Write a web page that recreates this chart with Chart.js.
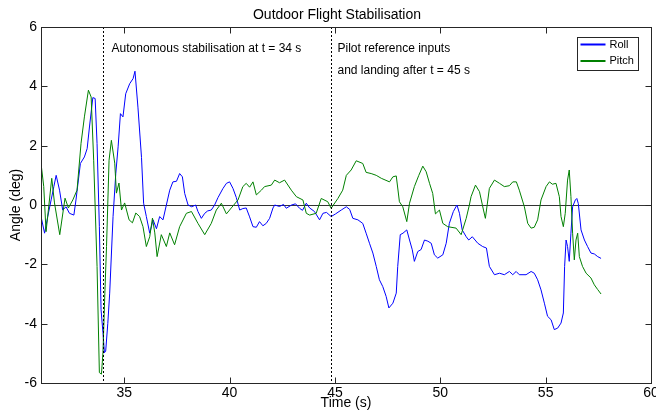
<!DOCTYPE html>
<html>
<head>
<meta charset="utf-8">
<script src="https://cdn.jsdelivr.net/npm/chart.js@4.4.0/dist/chart.umd.min.js"></script>
<style>
  body { margin: 0; background: #fff; }
  #wrap { width: 656px; height: 413px; }
</style>
</head>
<body>
<div id="wrap"><canvas id="flight" width="656" height="413"></canvas></div>
<script>
// angles (deg), time in seconds
const rollTime = [31.07,31.22,31.37,31.53,31.66,31.77,31.93,32.08,32.24,32.4,
  32.61,32.71,32.92,33.11,33.24,33.35,33.51,33.62,33.71,33.82,
  33.9,33.99,34.06,34.12,34.22,34.31,34.47,34.6,34.71,34.82,
  34.94,35.07,35.26,35.42,35.51,35.65,35.82,35.92,36.05,36.21,
  36.37,36.53,36.68,36.84,37.0,37.16,37.31,37.48,37.63,37.76,
  37.87,38.03,38.2,38.39,38.5,38.66,38.82,38.96,39.13,39.29,
  39.45,39.68,39.85,40.0,40.16,40.32,40.48,40.63,40.79,40.95,
  41.11,41.27,41.42,41.58,41.74,41.9,42.06,42.14,42.37,42.56,
  42.69,42.94,43.13,43.32,43.46,43.64,43.8,44.03,44.27,44.43,
  44.6,44.82,45.03,45.3,45.54,45.7,45.85,46.09,46.32,46.48,
  46.64,46.8,46.96,47.11,47.27,47.43,47.56,47.75,47.91,47.98,
  48.1,48.23,48.41,48.54,48.67,48.77,48.93,49.09,49.25,49.41,
  49.57,49.72,49.88,50.12,50.28,50.43,50.62,50.79,50.91,51.04,
  51.23,51.35,51.52,51.78,52.01,52.19,52.33,52.57,52.81,53.04,
  53.28,53.44,53.6,53.75,54.07,54.31,54.46,54.62,54.78,54.94,
  55.09,55.26,55.41,55.57,55.73,55.84,55.9,55.97,56.04,56.12,
  56.2,56.28,56.41,56.48,56.55,56.68,56.84,56.99,57.15,57.31,
  57.47,57.63];
const rollAngle = [-0.45,-0.95,-0.39,0.17,0.62,1.0,0.5,-0.17,-0.06,-0.28,
  -0.34,0.17,1.4,1.62,1.9,2.63,3.62,3.59,2.07,-0.73,
  -3.53,-4.3,-4.98,-4.93,-4.0,-2.97,-0.39,1.07,1.96,3.08,
  2.97,3.75,4.09,4.26,4.51,3.3,1.6,0.06,-0.39,-0.95,
  -0.5,-0.8,-0.39,-0.5,0,0.5,0.78,0.8,1.06,0.95,
  0.39,0,-0.06,0,-0.22,-0.45,-0.28,-0.2,-0.17,0,
  0.25,0.55,0.73,0.78,0.56,0.25,-0.17,-0.12,-0.1,-0.4,
  -0.73,-0.75,-0.56,-0.7,-0.62,-0.45,-0.1,0,-0.05,0.02,
  -0.11,0,0.04,-0.11,-0.18,0.06,-0.1,-0.22,-0.5,-0.28,
  -0.25,-0.39,-0.3,-0.17,-0.06,-0.15,-0.45,-0.5,-0.62,-0.95,
  -1.29,-1.62,-2.07,-2.52,-2.75,-3.08,-3.47,-3.31,-2.97,-2.07,
  -1.0,-0.95,-0.84,-1.18,-1.51,-1.9,-1.57,-1.5,-1.18,-1.22,
  -1.29,-1.68,-1.79,-1.68,-1.29,-0.62,-0.22,0,-0.28,-0.84,
  -1.07,-1.18,-1.07,-1.29,-1.4,-1.45,-2.07,-2.35,-2.3,-2.35,
  -2.24,-2.35,-2.24,-2.35,-2.35,-2.24,-2.3,-2.52,-2.86,-3.31,
  -3.75,-3.87,-4.2,-4.15,-3.98,-3.64,-2.07,-1.18,-1.4,-1.9,
  -0.95,-0.06,0.17,0.22,0.05,-0.84,-1.18,-1.4,-1.62,-1.65,
  -1.74,-1.8];
const pitchTime = [31.07,31.18,31.29,31.56,31.69,31.94,32.19,32.35,32.56,32.76,
  32.95,33.11,33.3,33.43,33.55,33.71,33.82,33.92,33.99,34.08,
  34.16,34.28,34.39,34.55,34.63,34.75,34.87,35.02,35.23,35.39,
  35.55,35.73,35.89,36.05,36.21,36.34,36.45,36.56,36.76,37.0,
  37.16,37.39,37.63,37.95,38.19,38.5,38.82,39.13,39.37,39.61,
  39.85,40.08,40.4,40.63,40.79,40.95,41.11,41.27,41.51,41.66,
  41.98,42.14,42.37,42.61,42.93,43.17,43.48,43.64,43.8,44.11,
  44.35,44.66,44.82,45.14,45.37,45.54,45.77,46.01,46.32,46.48,
  46.72,46.96,47.2,47.59,47.75,47.91,48.06,48.22,48.41,48.54,
  48.77,48.98,49.17,49.33,49.49,49.64,49.77,49.96,50.12,50.35,
  50.75,50.99,51.23,51.38,51.46,51.67,51.86,52.05,52.14,52.33,
  52.57,52.81,53.04,53.28,53.44,53.61,53.75,53.99,54.15,54.31,
  54.46,54.62,54.78,55.02,55.18,55.32,55.49,55.65,55.73,55.84,
  55.93,56.04,56.12,56.2,56.28,56.36,56.44,56.52,56.6,56.75,
  56.92,57.15,57.31,57.47,57.63];
const pitchAngle = [1.29,0.62,-0.9,0.9,0.07,-1.0,0.23,-0.1,0.17,0.5,
  2.08,2.97,3.87,3.64,1.51,-2.07,-5.65,-5.7,-4.98,-2.97,
  -1.4,1.51,2.18,1.41,0.4,0.74,-0.17,0.07,-0.5,-0.6,
  -0.27,-0.39,-0.73,-1.4,-1.07,-0.44,-0.94,-1.74,-1.0,-1.4,
  -0.94,-1.34,-0.73,-0.28,-0.22,-0.62,-1.0,-0.62,-0.17,0.06,
  -0.3,-0.1,0.17,0.62,0.73,0.6,0.78,0.34,0.5,0.62,
  0.67,0.84,0.75,0.84,0.5,0.28,0.17,-0.28,-0.34,-0.28,
  0.22,0.11,-0.11,0.22,0.5,1.0,1.18,1.49,1.4,1.1,
  1.06,1.0,0.9,0.78,0.95,0.98,0.11,-0.06,-0.56,0.06,
  0.62,1.0,1.31,1.12,0.73,0.39,-0.3,-0.17,-0.62,-0.73,
  -0.78,-1.0,-0.45,0,0.28,0.67,0.45,-0.17,-0.45,0.56,
  0.84,0.73,0.62,0.65,0.78,0.78,0.5,-0.06,-0.62,-0.78,
  -0.75,-0.5,0.17,0.62,0.78,0.7,0.73,0.28,-0.39,-0.73,
  -0.28,0.84,1.18,0.28,-0.95,-1.85,-1.18,-0.95,-1.74,-2.07,
  -2.3,-2.46,-2.69,-2.85,-3.0];

const xTicks = [35, 40, 45, 50, 55, 60];
const yTicks = [-6, -4, -2, 0, 2, 4, 6];
const eventTimes = [34, 44.8];
const noteLines = [
  ['Autonomous stabilisation at t = 34 s'],
  ['Pilot reference inputs', 'and landing after t = 45 s']
];

const FONT = "'Liberation Sans', Arial, sans-serif";
Chart.defaults.font.family = FONT;
Chart.defaults.color = '#000';

function toPoints(ts, vs) {
  return ts.map((t, i) => ({ x: t, y: vs[i] }));
}

// matlab look: boxed axes, inward ticks, dotted event lines, notes, legend
const matlabAxes = {
  id: 'matlabAxes',
  afterDatasetsDraw(chart, args, opts) {
    const { ctx, chartArea: a, scales: { x, y } } = chart;
    ctx.save();
    ctx.lineWidth = 1;

    ctx.strokeStyle = '#000';
    ctx.setLineDash([2, 2]);
    eventTimes.forEach(t => {
      const px = Math.round(x.getPixelForValue(t)) + 0.5;
      ctx.beginPath();
      ctx.moveTo(px, a.top);
      ctx.lineTo(px, a.bottom);
      ctx.stroke();
    });
    ctx.setLineDash([]);

    ctx.strokeStyle = '#262626';
    const L = Math.round(a.left) + 0.5, R = Math.round(a.right) + 0.5;
    const T = Math.round(a.top) + 0.5, B = Math.round(a.bottom) + 0.5;
    ctx.strokeRect(L, T, R - L, B - T);
    const tl = 6;
    ctx.beginPath();
    xTicks.forEach(v => {
      const px = Math.round(x.getPixelForValue(v)) + 0.5;
      ctx.moveTo(px, B); ctx.lineTo(px, B - tl);
      ctx.moveTo(px, T); ctx.lineTo(px, T + tl);
    });
    yTicks.forEach(v => {
      const py = Math.round(y.getPixelForValue(v)) + 0.5;
      ctx.moveTo(L, py); ctx.lineTo(L + tl, py);
      ctx.moveTo(R, py); ctx.lineTo(R - tl, py);
    });
    ctx.stroke();

    // title, sits a little left of centre like the original
    ctx.fillStyle = '#000';
    ctx.font = '14px ' + FONT;
    ctx.textAlign = 'center';
    ctx.textBaseline = 'middle';
    ctx.fillText('Outdoor Flight Stabilisation', (a.left + a.right) / 2 - 9, a.top - 12);

    // notes
    ctx.font = '12px ' + FONT;
    ctx.textAlign = 'left';
    opts.notes.forEach((n, i) => {
      const px = x.getPixelForValue(n.t);
      const py = y.getPixelForValue(n.v);
      noteLines[i].forEach((line, j) => ctx.fillText(line, px, py + j * 22));
    });

    // legend box
    const lg = opts.legend;
    const bx = Math.round(a.right - lg.right - lg.w) + 0.5;
    const by = Math.round(a.top + lg.top) + 0.5;
    ctx.fillStyle = '#fff';
    ctx.fillRect(bx, by, lg.w, lg.h);
    ctx.strokeStyle = '#262626';
    ctx.strokeRect(bx, by, lg.w, lg.h);
    ctx.font = '11px ' + FONT;
    chart.data.datasets.forEach((ds, i) => {
      const ry = by + 7 + i * 16.5;
      ctx.strokeStyle = ds.borderColor;
      ctx.lineWidth = 2;
      ctx.beginPath();
      ctx.moveTo(bx + 3, ry);
      ctx.lineTo(bx + 28, ry);
      ctx.stroke();
      ctx.fillStyle = '#000';
      ctx.fillText(ds.label, bx + 32, ry);
    });
    ctx.restore();
  }
};

new Chart(document.getElementById('flight'), {
  type: 'line',
  data: {
    datasets: [
      { label: 'Roll', data: toPoints(rollTime, rollAngle), borderColor: '#0000ff', borderWidth: 1, order: 1 },
      { label: 'Pitch', data: toPoints(pitchTime, pitchAngle), borderColor: '#008000', borderWidth: 1, order: 0 }
    ]
  },
  options: {
    responsive: false,
    animation: false,
    devicePixelRatio: 1,
    events: [],
    layout: { padding: { top: 27, right: 5, left: 0, bottom: 0 } },
    elements: { point: { radius: 0 }, line: { tension: 0 } },
    plugins: {
      legend: { display: false },
      tooltip: { enabled: false },
      matlabAxes: {
        notes: [{ t: 34.4, v: 5.28 }, { t: 45.12, v: 5.28 }],
        legend: { right: 13, top: 10, w: 61, h: 33 }
      }
    },
    scales: {
      x: {
        type: 'linear',
        min: 31.05,
        max: 60,
        afterBuildTicks: s => { s.ticks = xTicks.map(v => ({ value: v })); },
        afterFit: s => { s.height = 30; s.paddingLeft = 0; s.paddingRight = 0; },
        grid: { display: false, drawTicks: false },
        border: { display: false },
        ticks: { font: { size: 14 }, padding: 2, maxRotation: 0 },
        title: { display: true, text: 'Time (s)', font: { size: 14 }, padding: { top: 0, bottom: 1 } }
      },
      y: {
        min: -6,
        max: 6,
        afterBuildTicks: s => { s.ticks = yTicks.map(v => ({ value: v })); },
        afterFit: s => { s.width = 41; s.paddingTop = 0; s.paddingBottom = 0; },
        grid: {
          drawTicks: false,
          color: c => (c.tick && c.tick.value === 0 ? '#333' : 'rgba(0,0,0,0)')
        },
        border: { display: false },
        ticks: { font: { size: 14 }, padding: 4 },
        title: { display: true, text: 'Angle (deg)', font: { size: 14 }, padding: { top: 8, bottom: 0 } }
      }
    }
  },
  plugins: [matlabAxes]
});
</script>
</body>
</html>
